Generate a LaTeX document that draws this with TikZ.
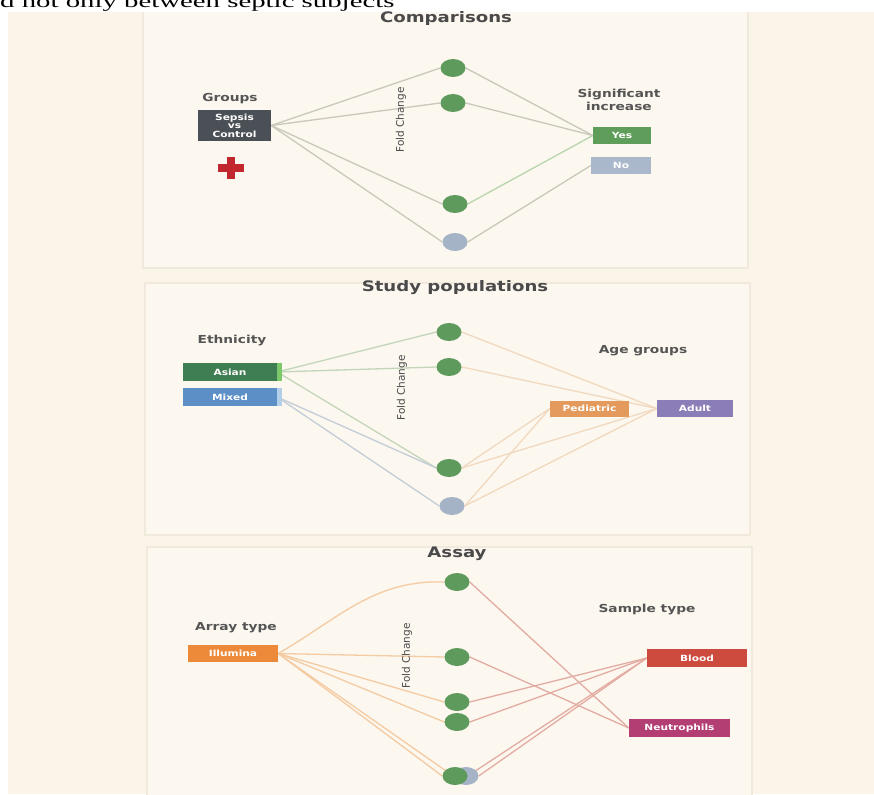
\documentclass[tikz,border=0pt]{standalone}
\usepackage{fontspec}
\setmainfont{Liberation Serif}
\newfontfamily\stripfont[FakeStretch=1.6]{Liberation Serif}
\newfontfamily\labelfont[FakeStretch=1.25]{DejaVu Sans}
\newfontfamily\axisfont{DejaVu Sans}
\usetikzlibrary{shapes.geometric}
\pgfdeclarelayer{back}
\pgfdeclarelayer{links}
\pgfsetlayers{back,links,main}

\definecolor{bgcream}{HTML}{FBF4E9}
\definecolor{panelfill}{HTML}{FCF7EF}
\definecolor{panelline}{HTML}{F0E9DC}
\definecolor{titlegrey}{HTML}{4A4A4A}
\definecolor{labelgrey}{HTML}{555555}
\definecolor{dotgreen}{HTML}{5E9A5C}
\definecolor{dotgrey}{HTML}{A4B4C6}
\definecolor{sepsisgrey}{HTML}{4B5056}
\definecolor{yesgreen}{HTML}{5E9E5A}
\definecolor{nogrey}{HTML}{A9B9CB}
\definecolor{crossred}{HTML}{C1272D}
\definecolor{asiangreen}{HTML}{3F7D52}
\definecolor{asianlight}{HTML}{7BC96B}
\definecolor{mixedblue}{HTML}{5C8FC6}
\definecolor{mixedlight}{HTML}{B3CFEA}
\definecolor{pedorange}{HTML}{E39A5C}
\definecolor{adultpurple}{HTML}{8B7DB7}
\definecolor{illorange}{HTML}{EC8A3A}
\definecolor{bloodred}{HTML}{CC4A3E}
\definecolor{neutropink}{HTML}{B23E73}
\definecolor{greyline}{HTML}{C9C8BB}
\definecolor{greenline}{HTML}{B7D6AC}
\definecolor{asianline}{HTML}{C3D6BA}
\definecolor{mixedline}{HTML}{C3CDD8}
\definecolor{ageline}{HTML}{F1D9BF}
\definecolor{illline}{HTML}{F4CBA3}
\definecolor{redline}{HTML}{E3ACA3}

\begin{document}
\begin{tikzpicture}[x=1pt, y=-1pt,
    panel/.style={draw=panelline, line width=2pt, fill=panelfill},
    title/.style={font=\labelfont\bfseries\fontsize{14.5}{15}\selectfont, text=titlegrey},
    grouplabel/.style={font=\labelfont\bfseries\fontsize{11}{13}\selectfont, text=labelgrey, align=center},
    catbox/.style={minimum height=17pt, inner sep=0pt, text=white, font=\labelfont\bfseries\fontsize{8.5}{8.5}\selectfont},
    fcdot/.style={ellipse, minimum width=25pt, minimum height=18pt, inner sep=0pt, fill=dotgreen},
    fcaxis/.style={rotate=90, inner sep=0pt, font=\axisfont\fontsize{10.5}{10.5}\selectfont, text=titlegrey},
    link/.style={line width=1.3pt}
]
    \useasboundingbox (0,0) rectangle (874,794);
    \begin{pgfonlayer}{back}
    \fill[white] (0,0) rectangle (874,794);
    \fill[bgcream] (8,12) rectangle (874,794);
    % panels
    \draw[panel] (143,4) rectangle (748,268);
    \draw[panel] (145,283) rectangle (750,535);
    \draw[panel] (147,547) rectangle (752,804);
    \fill[white] (0,0) rectangle (874,12);
    \end{pgfonlayer}
    \node[anchor=base west, inner sep=0pt, font=\stripfont\fontsize{18}{18}\selectfont] (strip) at (0,8) {d not only between septic subjects};

    % Comparisons
    \node[title] (t1) at (446,19) {Comparisons};
    \node[grouplabel] (groups) at (230,99) {Groups};
    \node[catbox, fill=sepsisgrey, minimum width=73pt, minimum height=31pt, align=center,
          font=\labelfont\bfseries\fontsize{8.5}{8.5}\selectfont] (sepsis) at (234.5,125.5) {Sepsis\\vs\\Control};
    \fill[crossred] (218,164) rectangle (244,172);
    \fill[crossred] (227,157) rectangle (235,179);
    \node[fcdot] (a1) at (453,68) {};
    \node[fcdot] (a2) at (453,103) {};
    \node[fcdot] (a3) at (455,204) {};
    \node[fcdot, fill=dotgrey] (a4) at (455,242) {};
    \node[fcaxis] (fc1) at (401,120) {Fold Change};
    \node[grouplabel] (signif) at (619,99.5) {Significant\\increase};
    \node[catbox, fill=yesgreen, minimum width=58pt] (yes) at (622,135.5) {Yes};
    \node[catbox, fill=nogrey, minimum width=60pt] (no) at (621,165.5) {No};

    % Study populations
    \node[title] (t2) at (455,288) {Study populations};
    \node[grouplabel] (ethn) at (232,341) {Ethnicity};
    \node[catbox, fill=asiangreen, minimum width=94pt, minimum height=18pt] (asian) at (230,372) {Asian};
    \node[catbox, fill=mixedblue, minimum width=94pt, minimum height=18pt] (mixed) at (230,397) {Mixed};
    \fill[asianlight] (asian.north east) rectangle ++(5,18);
    \fill[mixedlight] (mixed.north east) rectangle ++(5,18);
    \node[fcdot] (b1) at (449,332) {};
    \node[fcdot] (b2) at (449,367) {};
    \node[fcdot] (b3) at (449,468) {};
    \node[fcdot, fill=dotgrey] (b4) at (452,506) {};
    \node[fcaxis] (fc2) at (402,388) {Fold Change};
    \node[grouplabel] (agegr) at (643,351) {Age groups};
    \node[catbox, fill=pedorange, minimum width=79pt, minimum height=16pt] (ped) at (589.5,408.5) {Pediatric};
    \node[catbox, fill=adultpurple, minimum width=76pt] (adult) at (695,408.5) {Adult};

    % Assay
    \node[title] (t3) at (457,554) {Assay};
    \node[grouplabel] (arr) at (236,628) {Array type};
    \node[catbox, fill=illorange, minimum width=90pt] (illum) at (233,653.5) {Illumina};
    \node[fcdot] (c1) at (457,582) {};
    \node[fcdot] (c2) at (457,657) {};
    \node[fcdot] (c3) at (457,702) {};
    \node[fcdot] (c4) at (457,722) {};
    \node[fcdot, fill=dotgrey] (c6) at (466,776) {};
    \node[fcdot] (c5) at (455,776) {};
    \node[fcaxis] (fc3) at (407,656) {Fold Change};
    \node[grouplabel] (samp) at (647,610) {Sample type};
    \node[catbox, fill=bloodred, minimum width=100pt, minimum height=18pt] (blood) at (697,658) {Blood};
    \node[catbox, fill=neutropink, minimum width=101pt, minimum height=18pt] (neutro) at (679.5,728) {Neutrophils};

    \begin{pgfonlayer}{links}
    \foreach \d in {a1,a2,a3,a4}
        \draw[link, greyline] (sepsis.east) -- (\d.west);
    \foreach \d in {a1,a2}
        \draw[link, greyline] (\d.east) -- (yes.west);
    \draw[link, greenline] (a3.east) -- (yes.west);
    \draw[link, greyline] (a4.east) -- (no.west);

    \foreach \d in {b1,b2,b3}
        \draw[link, asianline] (asian.east) -- (\d.west);
    \foreach \d in {b3,b4}
        \draw[link, mixedline] (mixed.east) -- (\d.west);
    \foreach \d in {b1,b2,b3,b4}
        \draw[link, ageline] (\d.east) -- (adult.west);
    \foreach \d in {b3,b4}
        \draw[link, ageline] (\d.east) -- (ped.west);

    \draw[link, illline] (illum.east) to[out=30, in=178] (c1.west);
    \foreach \d in {c2,c3,c4,c5,c6}
        \draw[link, illline] (illum.east) -- (\d.west);
    \foreach \d in {c1,c2}
        \draw[link, redline] (\d.east) -- (neutro.west);
    \foreach \d in {c3,c4,c5,c6}
        \draw[link, redline] (\d.east) -- (blood.west);
    \end{pgfonlayer}
\end{tikzpicture}
\end{document}
